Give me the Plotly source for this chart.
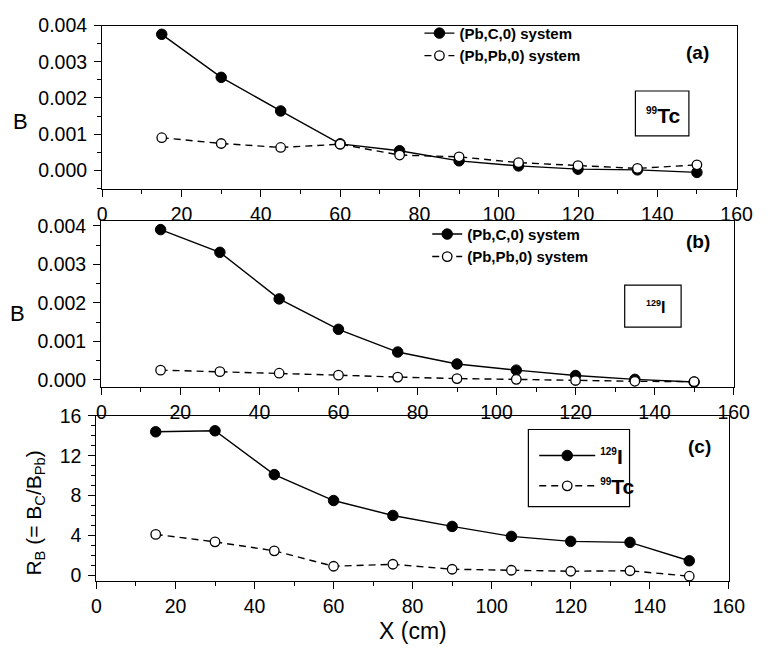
import plotly.graph_objects as go

# Distance along the assembly (cm)
x_cm = [15, 30, 45, 60, 75, 90, 105, 120, 135, 150]

# (a) 99Tc: B for the two systems
tc_pbc = [0.00376, 0.00257, 0.00164, 0.00073, 0.00054, 0.00026, 0.00012, 0.00003, 0.00001, -0.00006]
tc_pbpb = [0.00090, 0.00074, 0.00063, 0.00072, 0.00042, 0.00037, 0.00021, 0.00013, 0.00005, 0.00015]

# (b) 129I: B for the two systems
i_pbc = [0.00390, 0.00331, 0.00210, 0.00131, 0.00072, 0.00041, 0.00025, 0.00011, 0.00001, -0.00006]
i_pbpb = [0.00025, 0.00021, 0.00017, 0.00012, 0.00007, 0.00003, 0.00001, -0.00002, -0.00004, -0.00005]

# (c) ratio R_B = B_C / B_Pb
rb_i = [14.4, 14.5, 10.1, 7.5, 6.0, 4.9, 3.9, 3.4, 3.3, 1.45]
rb_tc = [4.1, 3.35, 2.45, 0.9, 1.1, 0.6, 0.5, 0.4, 0.45, -0.1]

x_ticks = [0, 20, 40, 60, 80, 100, 120, 140, 160]

W, H = 773, 654
FONT = "Liberation Sans, Arial, sans-serif"


def px(x):
    return x / W


def py(y):
    return 1 - y / H


solid = dict(color="black", width=1.4)
dashed = dict(color="black", width=1.4, dash="7px,5px")
filled = dict(symbol="circle", size=10.5, color="black", line=dict(color="black", width=1))
hollow = dict(symbol="circle", size=9.5, color="white", line=dict(color="black", width=1.3))

fig = go.Figure()

panels = [
    ("x", "y", "legend", tc_pbc, tc_pbpb, "(Pb,C,0) system", "(Pb,Pb,0) system"),
    ("x2", "y2", "legend2", i_pbc, i_pbpb, "(Pb,C,0) system", "(Pb,Pb,0) system"),
    ("x3", "y3", "legend3", rb_i, rb_tc,
     "<sup><span style='font-size:10px'>129</span></sup>I",
     "<sup><span style='font-size:10px'>99</span></sup>Tc"),
]
for xa, ya, lg, s1, s2, n1, n2 in panels:
    fig.add_trace(go.Scatter(x=x_cm, y=s1, mode="lines+markers", line=solid, marker=filled,
                             name=n1, xaxis=xa, yaxis=ya, legend=lg))
    fig.add_trace(go.Scatter(x=x_cm, y=s2, mode="lines+markers", line=dashed, marker=hollow,
                             name=n2, xaxis=xa, yaxis=ya, legend=lg))

axis_common = dict(
    showline=True, linecolor="black", linewidth=1.4, mirror=True,
    ticks="outside", ticklen=7, tickwidth=1.3, tickcolor="black",
    showgrid=False, zeroline=False,
    tickfont=dict(family=FONT, size=19.5, color="black"),
)
x_common = dict(axis_common, range=[0, 160], tickvals=x_ticks,
                minor=dict(dtick=10, ticks="outside", ticklen=4, tickwidth=1.1, tickcolor="black"))
y_common = dict(axis_common, ticklabelstandoff=3)

# panel domains in pixels: (left, right, top, bottom)
dom = {
    "a": (100, 752, 15, 182.5),
    "b": (99, 749, 215, 385.5),
    "c": (94, 744, 415, 584.5),
}


def xdom(k):
    l, r, t, b = dom[k]
    return [px(l), px(r)]


def ydom(k):
    l, r, t, b = dom[k]
    return [py(b), py(t)]


fig.update_layout(
    width=W, height=H, margin=dict(l=0, r=0, t=0, b=0),
    paper_bgcolor="white", plot_bgcolor="white",
    font=dict(family=FONT, color="black"),
    xaxis=dict(x_common, domain=xdom("a"), anchor="y"),
    yaxis=dict(y_common, domain=ydom("a"), anchor="x", range=[-0.00052, 0.004],
               dtick=0.001, tick0=0, tickformat=".3f",
               minor=dict(dtick=0.0005, ticks="outside", ticklen=4, tickwidth=1.1, tickcolor="black")),
    xaxis2=dict(x_common, domain=xdom("b"), anchor="y2"),
    yaxis2=dict(y_common, domain=ydom("b"), anchor="x2", range=[-0.00019, 0.00413],
                dtick=0.001, tick0=0, tickformat=".3f",
                minor=dict(dtick=0.0005, ticks="outside", ticklen=4, tickwidth=1.1, tickcolor="black")),
    xaxis3=dict(x_common, domain=xdom("c"), anchor="y3"),
    yaxis3=dict(y_common, domain=ydom("c"), anchor="x3", range=[-0.6, 16],
                dtick=4, tick0=0,
                minor=dict(dtick=1, ticks="outside", ticklen=4, tickwidth=1.1, tickcolor="black")),
    legend=dict(x=px(426), y=py(6), xanchor="left", yanchor="top", bgcolor="rgba(0,0,0,0)",
                font=dict(family=FONT, size=15, weight="bold"), tracegroupgap=0),
    legend2=dict(x=px(434), y=py(212), xanchor="left", yanchor="top", bgcolor="rgba(0,0,0,0)",
                 font=dict(family=FONT, size=15, weight="bold"), tracegroupgap=0),
    legend3=dict(x=px(544), y=py(435), xanchor="left", yanchor="top", bgcolor="rgba(0,0,0,0)",
                 itemwidth=56,
                 font=dict(family=FONT, size=21, weight="bold"), tracegroupgap=0),
)

shapes = [
    # nuclide boxes in panels (a) and (b), legend frame in (c)
    dict(type="rect", xref="paper", yref="paper", x0=px(648), x1=px(703), y0=py(128), y1=py(82),
         line=dict(color="black", width=1.2)),
    dict(type="rect", xref="paper", yref="paper", x0=px(637), x1=px(695), y0=py(324), y1=py(281),
         line=dict(color="black", width=1.2)),
    dict(type="rect", xref="paper", yref="paper", x0=px(538), x1=px(642), y0=py(508), y1=py(429),
         line=dict(color="black", width=1.2)),
]
fig.update_layout(shapes=shapes)


def ann(x, y, text, size, bold=False, angle=0):
    return dict(x=px(x), y=py(y), xref="paper", yref="paper", text=text, showarrow=False,
                xanchor="center", yanchor="middle", textangle=angle,
                font=dict(family=FONT, size=size, color="black", weight="bold" if bold else "normal"))


annotations = [
    ann(712, 43, "(a)", 19, bold=True),
    ann(712, 236, "(b)", 19, bold=True),
    ann(714, 446, "(c)", 19, bold=True),
    ann(676, 107, "<sup><span style='font-size:10px'>99</span></sup>Tc", 21, bold=True),
    ann(669, 303, "<sup><span style='font-size:9px'>129</span></sup>I", 16, bold=True),
    ann(16, 113, "B", 22),
    ann(13, 310, "B", 22),
    ann(31, 515, "R<sub>B</sub> (= B<sub>C</sub>/B<sub>Pb</sub>)", 21, angle=-90),
    ann(419, 636, "X (cm)", 23),
]
fig.update_layout(annotations=annotations)

fig.write_html("out.html")
